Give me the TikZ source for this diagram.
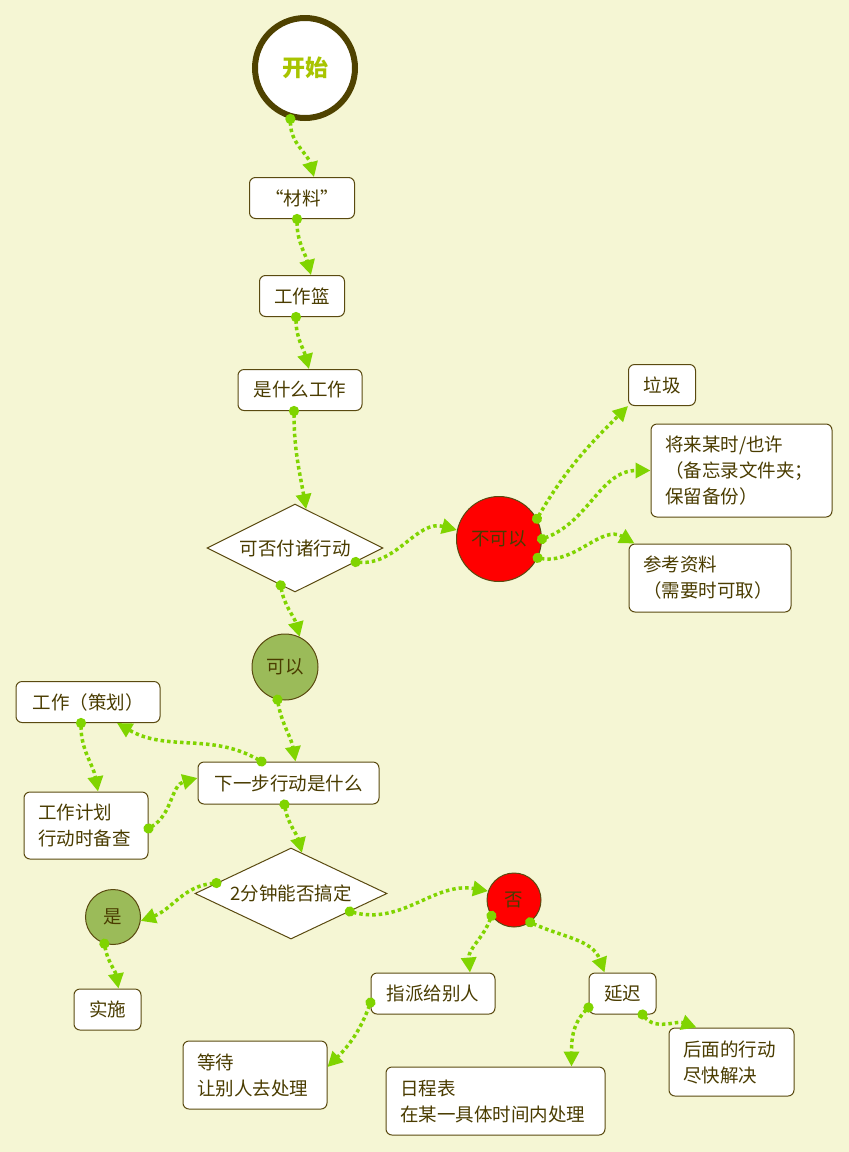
\documentclass[tikz,border=0pt]{standalone}
\usepackage{fontspec}
\setmainfont{Noto Sans CJK SC}
\usetikzlibrary{shapes.geometric,arrows.meta}
\definecolor{paper}{HTML}{F5F6D4}
\definecolor{ink}{HTML}{4A3C00}
\definecolor{rim}{HTML}{5A4A10}
\definecolor{ring}{HTML}{4F4200}
\definecolor{lime}{HTML}{80D400}
\definecolor{leaf}{HTML}{9BBB59}
\definecolor{sprout}{HTML}{A8C400}
\tikzset{
	box/.style = {draw = rim, line width = 1pt, fill = white, rounded corners = 6pt, minimum height = 41, inner xsep = 14},
	note/.style = {box, align = left, text width = #1},
	ask/.style = {draw = rim, line width = 1pt, fill = white, diamond, aspect = 2, inner sep = 0pt},
	ball/.style = {draw = rim, line width = 1pt, circle, inner sep = 0pt},
	link/.style = {lime, line width = 3.5pt, dash pattern = on 3.5pt off 3pt, shorten <= -5pt, {Circle[length = 10pt]}-{Triangle[length = 15pt, width = 15pt]}}
}

\begin{document}
\begin{tikzpicture}[x = 1pt, y = 1pt, every node/.style = {font = \fontsize{18.5}{26}\selectfont, text = ink}]

		\fill[paper] (0,0) rectangle (849,-1152);

		\node[ball, draw = ring, line width = 6pt, fill = white, minimum size = 100, font = \fontsize{23}{26}\selectfont\bfseries, text = sprout] (start) at (305,-68) {开始};
		\node[box, minimum width = 105] (material) at (302,-198) {“材料”};
		\node[box, minimum width = 85] (inbox) at (302,-296) {工作篮};
		\node[box, minimum width = 124] (what) at (300,-390) {是什么工作};
		\node[ask, minimum width = 176, minimum height = 88] (act_q) at (295,-548) {可否付诸行动};

		\node[ball, fill = red, minimum size = 85] (not_act) at (499,-539) {不可以};
		\node[box, minimum width = 67] (trash) at (662,-385) {垃圾};
		\node[note = 153, minimum height = 93] (later) at (741.5,-470.5) {将来某时/也许\\（备忘录文件夹；\\保留备份）};
		\node[note = 134, minimum height = 68] (refer) at (710,-578) {参考资料\\（需要时可取）};

		\node[ball, fill = leaf, minimum size = 66] (can_act) at (285,-667) {可以};
		\node[box, minimum width = 144] (plan) at (88,-702) {工作（策划）};
		\node[box, minimum width = 181, minimum height = 42] (next) at (288.5,-783) {下一步行动是什么};
		\node[note = 96, minimum height = 67] (proj) at (86,-825.5) {工作计划\\行动时备查};
		\node[ask, minimum width = 192, minimum height = 91] (two_min) at (291,-893.5) {2分钟能否搞定};

		\node[ball, fill = leaf, minimum size = 55] (yes_do) at (113,-917) {是};
		\node[ball, fill = red, minimum size = 54] (no_do) at (514,-900) {否};
		\node[box, minimum width = 67] (doit) at (107.5,-1009.5) {实施};
		\node[box, minimum width = 124] (delegate) at (433,-993.5) {指派给别人};
		\node[box, minimum width = 67] (defer) at (622.5,-993.5) {延迟};
		\node[note = 116, minimum height = 68] (wait) at (255,-1075) {等待\\让别人去处理};
		\node[note = 191, minimum height = 68] (sched) at (495.5,-1101) {日程表\\在某一具体时间内处理};
		\node[note = 97, minimum height = 68] (asap) at (731.5,-1062) {后面的行动\\尽快解决};

		\draw[link] (start.-106) to[out = -90, in = 105] ([xshift = 12]material.north);
		\draw[link] ([xshift = -5]material.south) to[out = -90, in = 105] ([xshift = 9]inbox.north);
		\draw[link] ([xshift = -6]inbox.south) to[out = -90, in = 105] ([xshift = 9]what.north);
		\draw[link] ([xshift = -6]what.south) to[out = -90, in = 100] (act_q.74);
		\draw[link] (act_q.-13) to[out = -5, in = 165] (not_act.168);

		\draw[link] (not_act.28) to[out = 60, in = -135] (trash.south west);
		\draw[link] (not_act.0) to[out = 20, in = 180] (later.west);
		\draw[link] (not_act.-26) to[out = -10, in = 150] ([xshift = 6]refer.north west);

		\draw[link] (act_q.-111) to[out = -80, in = 105] (can_act.64);
		\draw[link] (can_act.-103) to[out = -80, in = 100] ([xshift = 7]next.north);
		\draw[link] ([xshift = -27]next.north) to[out = 150, in = -30] ([xshift = 29]plan.south);
		\draw[link] ([xshift = -7]plan.south) to[out = -90, in = 100] ([xshift = 12]proj.north);
		\draw[link] ([yshift = -3]proj.east) to[out = 30, in = 195] ([yshift = 5]next.west);
		\draw[link] ([xshift = -4]next.south) to[out = -80, in = 105] (two_min.75);

		\draw[link] (two_min.172) to[out = 185, in = 20] (yes_do.-8);
		\draw[link] (yes_do.-108) to[out = -80, in = 100] ([xshift = 11]doit.north);
		\draw[link] (two_min.-17) to[out = -15, in = 170] (no_do.161);
		\draw[link] (no_do.-145) to[out = -110, in = 95] ([xshift = 37]delegate.north);
		\draw[link] (no_do.-54) to[out = -25, in = 110] ([xshift = -18]defer.north);

		\draw[link] ([yshift = -9]delegate.west) to[out = -110, in = 45] ([yshift = 8]wait.east);
		\draw[link] ([yshift = -14]defer.west) to[out = -135, in = 90] ([xshift = 76]sched.north);
		\draw[link] ([xshift = 20]defer.south) to[out = -50, in = 160] ([xshift = -35]asap.north);
	\end{tikzpicture}
\end{document}
